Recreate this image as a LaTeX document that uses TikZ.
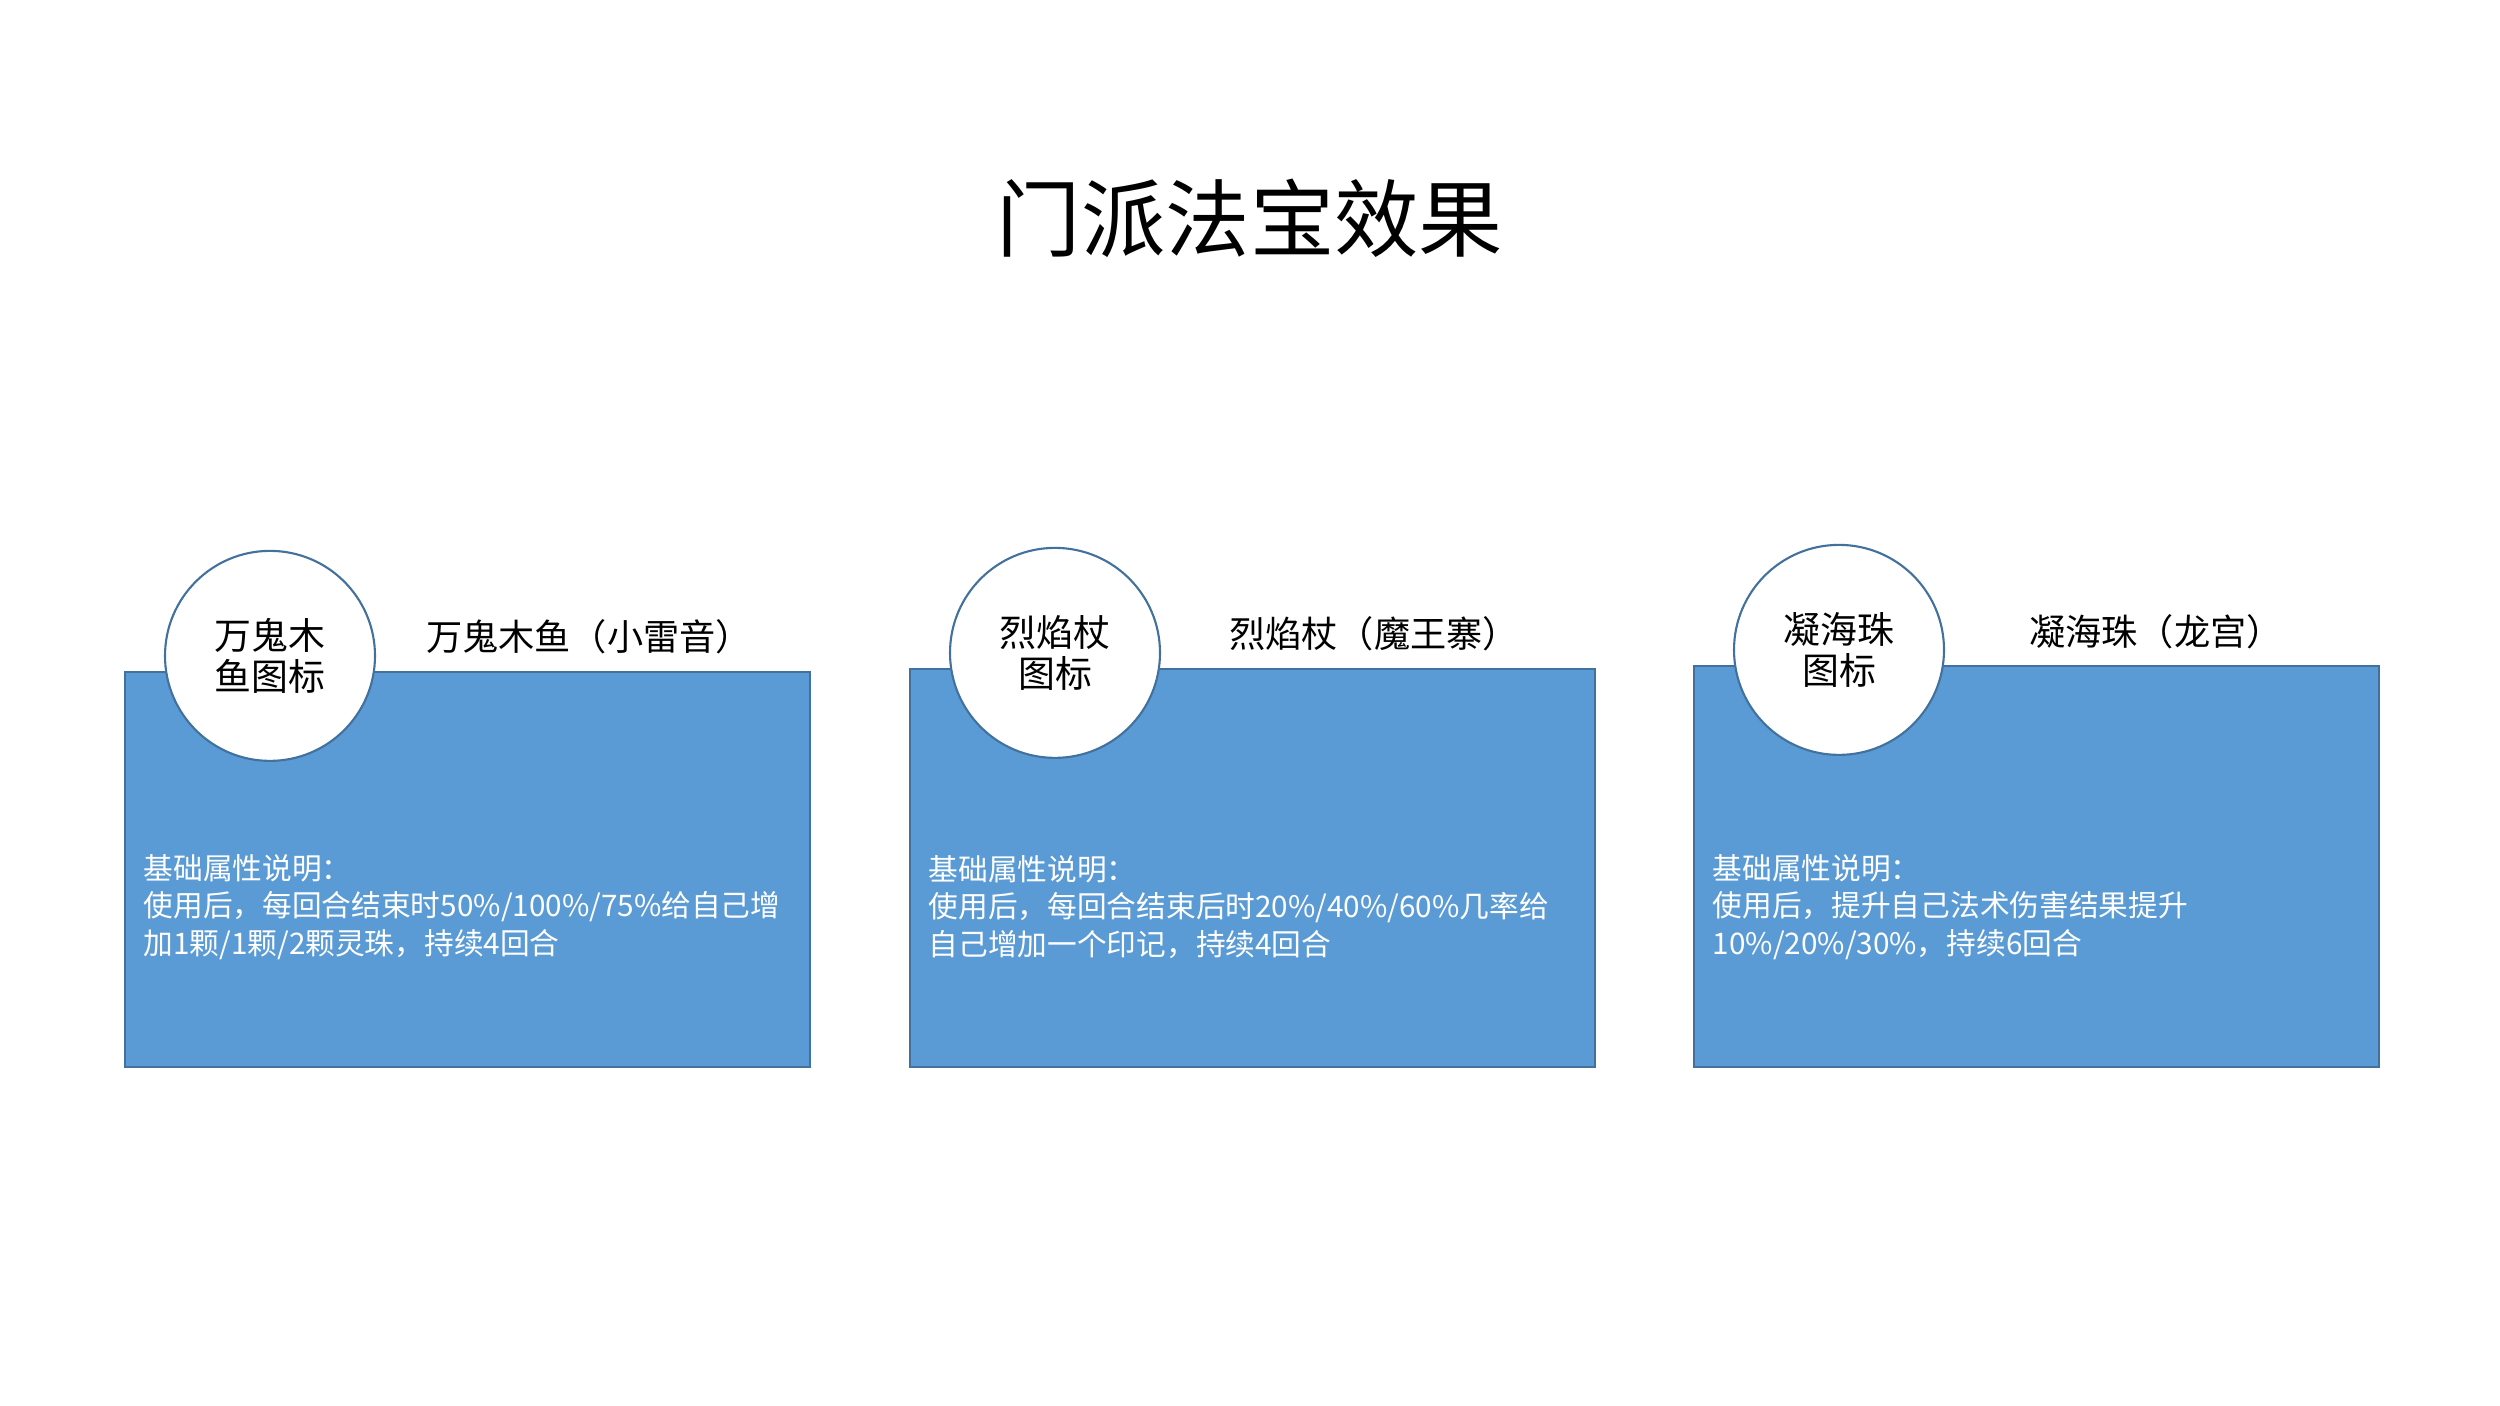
\documentclass[tikz,border=0pt]{standalone}
\usepackage{fontspec}
\newfontfamily\cjk{Noto Sans CJK SC}
\usetikzlibrary{positioning, calc}
\usepackage{xcolor}
\definecolor{Panel}{HTML}{5B9BD5}
\definecolor{PanelLine}{HTML}{41719C}

\begin{document}
\begin{tikzpicture}[
            panel/.style={
                rectangle,
                draw=PanelLine,
                fill=Panel,
                line width=0.6pt,
                minimum width=6.85cm,
                minimum height=3.97cm,
                anchor=south west,
                inner sep=0pt
            },
            icon/.style={
                circle,
                draw=PanelLine,
                fill=white,
                line width=0.6pt,
                minimum size=2.1cm,
                inner sep=0pt,
                align=center,
                font=\cjk\fontsize{10.5}{11.7}\selectfont
            },
            caption/.style={font=\cjk\fontsize{10.3}{12}\selectfont, text=black},
            desc/.style={
                anchor=west,
                inner sep=0pt,
                align=left,
                text=white,
                font=\cjk\fontsize{8.45}{10.7}\selectfont
            },
            heading/.style={font=\cjk\fontsize{24}{28}\selectfont, text=black}
        ]
            \useasboundingbox (0,0) rectangle (25,14.06);

            \node[heading] (title) at (12.5,11.88) {门派法宝效果};

            % Panels
            \node[panel, minimum height=3.95cm] (box1) at (1.24,3.38) {};
            \node[panel, minimum height=3.98cm] (box2) at (9.09,3.38) {};
            \node[panel, minimum height=4.01cm] (box3) at (16.93,3.38) {};

            % Icons and names
            \node[icon] (icon1) at ($(box1.north west)+(1.46,0.15)$) {万鬼木\\鱼图标};
            \node[icon] (icon2) at ($(box2.north west)+(1.46,0.15)$) {烈焰杖\\图标};
            \node[icon] (icon3) at ($(box3.north west)+(1.46,0.15)$) {凝海珠\\图标};
            \node[caption] (name1) at ($(box1.north west)+(4.65,0.34)$) {万鬼木鱼（小雷音）};
            \node[caption] (name2) at ($(box2.north west)+(4.65,0.34)$) {烈焰杖（魔王寨）};
            \node[caption] (name3) at ($(box3.north west)+(4.63,0.33)$) {凝海珠（龙宫）};

            % Descriptions
            \node[desc] (desc1) at ($(box1.south west)+(0.19,1.61)$) {基础属性说明：\\使用后，每回合结束时50\%/100\%/75\%给自己增\\加1颗/1颗/2颗灵珠，持续4回合};
            \node[desc] (desc2) at ($(box2.south west)+(0.19,1.61)$) {基础属性说明：\\使用后，每回合结束后时20\%/40\%/60\%几率给\\自己增加一个印记，持续4回合};
            \node[desc] (desc3) at ($(box3.south west)+(0.19,1.61)$) {基础属性说明：\\使用后，提升自己法术伤害结果提升\\10\%/20\%/30\%，持续6回合};
        \end{tikzpicture}
\end{document}
